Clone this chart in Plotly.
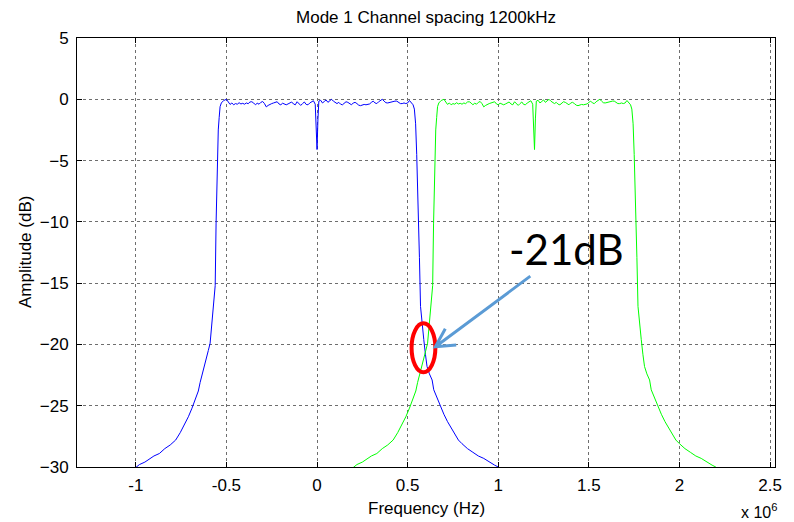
import plotly.graph_objects as go

# ---------------- data (frequency offsets in MHz relative to channel centre, amplitude in dB) ----
channel_centers_hz = [0.0, 1.2e6]
channel_colors = ["#0000FF", "#00FF00"]

left_skirt_offset = [-1.03, -1.00, -0.98, -0.95, -0.93, -0.90, -0.87, -0.84, -0.81, -0.78,
                     -0.755, -0.73, -0.71, -0.69, -0.67, -0.655, -0.645, -0.63, -0.615, -0.60,
                     -0.59, -0.575, -0.562, -0.557, -0.550, -0.545, -0.540, -0.535, -0.528, -0.515]
left_skirt_db = [-30.4, -30.0, -29.8, -29.6, -29.4, -29.1, -28.9, -28.5, -28.2, -27.8,
                 -27.2, -26.5, -25.9, -25.2, -24.4, -23.8, -23.1, -22.3, -21.3, -20.5,
                 -19.9, -17.6, -15.2, -10.1, -4.7, -2.5, -1.5, -0.6, -0.3, -0.1]

passband_offset = [-0.50, -0.49, -0.48, -0.47, -0.46, -0.45, -0.44, -0.43, -0.42, -0.41,
                   -0.40, -0.39, -0.38, -0.37, -0.36, -0.35, -0.34, -0.33, -0.32, -0.31,
                   -0.30, -0.29, -0.28, -0.27, -0.26, -0.25, -0.24, -0.23, -0.22, -0.21,
                   -0.20, -0.19, -0.18, -0.17, -0.16, -0.15, -0.14, -0.13, -0.12, -0.11,
                   -0.10, -0.09, -0.08, -0.07, -0.06, -0.05, -0.04, -0.03, -0.02, -0.01,
                   -0.005, 0.0, 0.005,
                   0.01, 0.02, 0.03, 0.04, 0.05, 0.06, 0.07, 0.08, 0.09, 0.10,
                   0.11, 0.12, 0.13, 0.14, 0.15, 0.16, 0.17, 0.18, 0.19, 0.20,
                   0.21, 0.22, 0.23, 0.24, 0.25, 0.26, 0.27, 0.28, 0.29, 0.30,
                   0.31, 0.32, 0.33, 0.34, 0.35, 0.36, 0.37, 0.38, 0.39, 0.40,
                   0.41, 0.42, 0.43, 0.44, 0.45, 0.46, 0.47, 0.48, 0.49, 0.50, 0.51]
passband_db = [0.00, -0.25, -0.42, -0.30, -0.45, -0.35, -0.40, -0.28, -0.38, -0.33,
               -0.40, -0.30, -0.36, -0.22, -0.20, -0.30, -0.45, -0.32, -0.40, -0.25,
               -0.18, -0.35, -0.62, -0.50, -0.40, -0.35, -0.30, -0.22, -0.20, -0.38,
               -0.45, -0.32, -0.40, -0.45, -0.38, -0.28, -0.22, -0.38, -0.45, -0.20,
               -0.40, -0.50, -0.35, -0.22, -0.42, -0.45, -0.30, -0.18, -0.12, -0.40,
               -1.8, -4.1, -1.6,
               -0.15, -0.08, -0.30, -0.18, -0.05, -0.25, -0.12, 0.00, -0.15, -0.28,
               -0.35, -0.25, -0.40, -0.45, -0.30, -0.20, -0.25, -0.38, -0.45, -0.30,
               -0.25, -0.35, -0.48, -0.52, -0.45, -0.42, -0.45, -0.40, -0.38, -0.25,
               -0.15, -0.30, -0.35, -0.20, -0.10, 0.00, -0.15, -0.28, -0.30, -0.25,
               -0.20, -0.20, -0.15, -0.15, -0.25, -0.35, -0.35, -0.30, -0.35, -0.30, -0.10]

right_skirt_offset = [0.52, 0.53, 0.537, 0.544, 0.550, 0.556, 0.565, 0.571, 0.580, 0.589,
                      0.598, 0.607, 0.620, 0.635, 0.644, 0.66, 0.68, 0.70, 0.72, 0.74,
                      0.76, 0.78, 0.80, 0.83, 0.86, 0.89, 0.92, 0.95, 0.98, 1.00, 1.03]
right_skirt_db = [-0.30, -0.45, -0.8, -2.0, -4.5, -7.4, -12.9, -16.9, -18.5, -19.6,
                  -20.8, -21.8, -22.4, -22.9, -23.7, -24.3, -25.0, -25.7, -26.3, -26.8,
                  -27.3, -27.8, -28.1, -28.5, -28.8, -29.1, -29.3, -29.6, -29.85, -30.0, -30.4]

x_tick_vals = [-1e6, -0.5e6, 0.0, 0.5e6, 1e6, 1.5e6, 2e6, 2.5e6]
x_tick_text = ["-1", "-0.5", "0", "0.5", "1", "1.5", "2", "2.5"]
y_tick_vals = [-30, -25, -20, -15, -10, -5, 0, 5]

# ---------------- figure ----------------
offsets = left_skirt_offset + passband_offset + right_skirt_offset
amps = left_skirt_db + passband_db + right_skirt_db

FONT = "Liberation Sans, Arial, sans-serif"
FS = 17
fig = go.Figure()
for center, color in zip(channel_centers_hz, channel_colors):
    fig.add_trace(go.Scatter(
        x=[center + o * 1e6 for o in offsets], y=amps, mode="lines",
        line=dict(color=color, width=1), showlegend=False, hoverinfo="skip"))

axis_common = dict(
    showline=True, linecolor="black", linewidth=1, mirror="ticks",
    ticks="inside", ticklen=5, tickcolor="black", tickwidth=1,
    showgrid=True, gridcolor="#6e6e6e", griddash="dot", gridwidth=1,
    zeroline=False, tickfont=dict(family=FONT, size=FS, color="black"),
)
fig.update_xaxes(range=[-1.3245e6, 2.527e6], tickvals=x_tick_vals, ticktext=x_tick_text,
                 ticklabelstandoff=3, **axis_common)
fig.update_yaxes(range=[-30, 5], tickvals=y_tick_vals, ticklabelstandoff=4, **axis_common)

# annotation: red ellipse, arrow, label
fig.add_shape(type="circle", xref="x", yref="y", x0=0.5216e6, x1=0.653e6, y0=-22.27, y1=-18.28,
              line=dict(color="#FF0000", width=4))
fig.add_shape(type="path", xref="x", yref="y",
              path="M 1176800,-14.43 L 653000,-20.19 M 707700,-18.72 L 653000,-20.19 L 768000,-20.05",
              line=dict(color="#5B9BD5", width=3))
fig.add_annotation(x=1.3738e6, y=-12.2, xref="x", yref="y", text="-21dB", showarrow=False,
                   font=dict(family="Lato, sans-serif", size=42, color="black"))

fig.add_annotation(x=0.5, y=-(508 - 467) / 429, xref="paper", yref="paper", text="Frequency (Hz)",
                   xanchor="center", yanchor="middle",
                   showarrow=False, font=dict(family=FONT, size=FS, color="black"))
fig.add_annotation(x=(25 - 77) / 705, y=0.5, xref="paper", yref="paper", text="Amplitude (dB)",
                   xanchor="center", yanchor="middle",
                   textangle=-90, showarrow=False, font=dict(family=FONT, size=FS, color="black"))
fig.add_annotation(x=(786 - 77) / 705, y=-(511 - 467) / 429, xref="paper", yref="paper",
                   xanchor="right", yanchor="middle", text="x 10<sup>6</sup>", showarrow=False,
                   font=dict(family=FONT, size=16, color="black"))

fig.update_layout(
    width=794, height=522,
    margin=dict(l=77, r=12, t=38, b=55),
    paper_bgcolor="white", plot_bgcolor="white",
    title=dict(text="Mode 1 Channel spacing 1200kHz", x=0.5, xref="paper",
               y=1 - 17 / 522, yref="container", yanchor="middle", xanchor="center",
               font=dict(family=FONT, size=FS, color="black")),
)

fig.write_html("out.html")
